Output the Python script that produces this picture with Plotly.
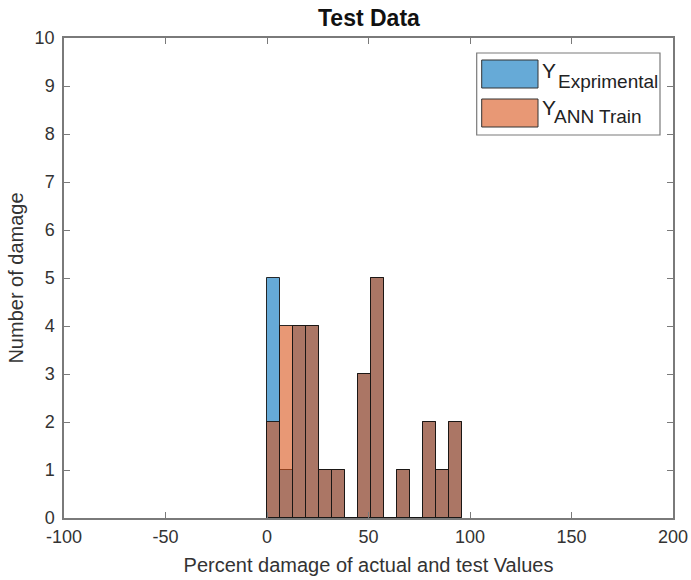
import plotly.graph_objects as go

# ---- data ----
bin_start = 0.0
bin_width = 6.4
counts_exp = [5, 1, 4, 4, 1, 1, 0, 3, 5, 0, 1, 0, 2, 1, 2]   # Y_Exprimental
counts_ann = [2, 4, 4, 4, 1, 1, 0, 3, 5, 0, 1, 0, 2, 1, 2]   # Y_ANN Train
x_ticks = [-100, -50, 0, 50, 100, 150, 200]
y_ticks = list(range(0, 11))

centers = [bin_start + bin_width * (i + 0.5) for i in range(len(counts_exp))]

W, H = 691, 580
L, R, T, B = 64, 18, 38, 62
pw, ph = W - L - R, H - T - B


def px(x):
    return (x - L) / pw


def py(y):
    return (H - B - y) / ph


edge = dict(color="rgba(20,20,20,0.9)", width=1)
fig = go.Figure()
fig.add_trace(go.Bar(x=centers, y=counts_exp, width=[bin_width] * len(centers),
                     marker=dict(color="rgba(0,114,189,0.6)", line=edge),
                     name="Y<sub>Exprimental</sub>"))
fig.add_trace(go.Bar(x=centers, y=counts_ann, width=[bin_width] * len(centers),
                     marker=dict(color="rgba(217,83,25,0.6)", line=edge),
                     name="Y<sub>ANN Train</sub>"))

axis_common = dict(showline=True, linecolor="#7a7a7a", linewidth=1.5, mirror="ticks",
                   ticks="inside", ticklen=6, tickcolor="#7a7a7a", tickwidth=1,
                   showgrid=False, zeroline=False, automargin=False,
                   tickfont=dict(family="Liberation Sans, Arial", size=18, color="#333333"))

fig.update_layout(
    width=W, height=H,
    margin=dict(l=L, r=R, t=T, b=B),
    paper_bgcolor="white", plot_bgcolor="white",
    barmode="overlay", bargap=0, showlegend=False,
    font=dict(family="Liberation Sans, Arial", color="#333333"),
    xaxis=dict(range=[-100, 200], tickvals=x_ticks, ticktext=[str(v) for v in x_ticks],
               title=dict(text="Percent damage of actual and test Values",
                          font=dict(size=20, color="#333333"), standoff=12),
               ticklabelstandoff=2,
               **axis_common),
    yaxis=dict(range=[0, 10], tickvals=y_ticks, ticktext=[str(v) for v in y_ticks],
               title=dict(text="Number of damage", font=dict(size=20, color="#333333"),
                          standoff=6),
               ticklabelstandoff=4,
               **axis_common),
)

# title
fig.add_annotation(text="<b>Test Data</b>", xref="paper", yref="paper",
                   x=0.5, y=py(18), xanchor="center", yanchor="middle",
                   showarrow=False, font=dict(size=23, color="#111111"))

# custom legend (MATLAB style)
fig.add_shape(type="rect", xref="paper", yref="paper",
              x0=px(476.7), x1=px(660), y0=py(135), y1=py(53),
              line=dict(color="#7a7a7a", width=1.2), fillcolor="white")
fig.add_shape(type="rect", xref="paper", yref="paper",
              x0=px(481.7), x1=px(538), y0=py(88), y1=py(60),
              line=dict(color="#333333", width=1), fillcolor="rgba(0,114,189,0.6)")
fig.add_shape(type="rect", xref="paper", yref="paper",
              x0=px(481.7), x1=px(538), y0=py(127), y1=py(99),
              line=dict(color="#333333", width=1), fillcolor="rgba(217,83,25,0.6)")
for yy, sub, subx in [(71, "Exprimental", 556), (107, "ANN Train", 552)]:
    fig.add_annotation(text="Y", xref="paper", yref="paper", x=px(540), y=py(yy),
                       xanchor="left", yanchor="middle", showarrow=False,
                       font=dict(size=21, color="#222222"))
    fig.add_annotation(text=sub, xref="paper", yref="paper", x=px(subx), y=py(yy + 10),
                       xanchor="left", yanchor="middle", showarrow=False,
                       font=dict(size=19, color="#222222"))

fig.write_html("out.html")
